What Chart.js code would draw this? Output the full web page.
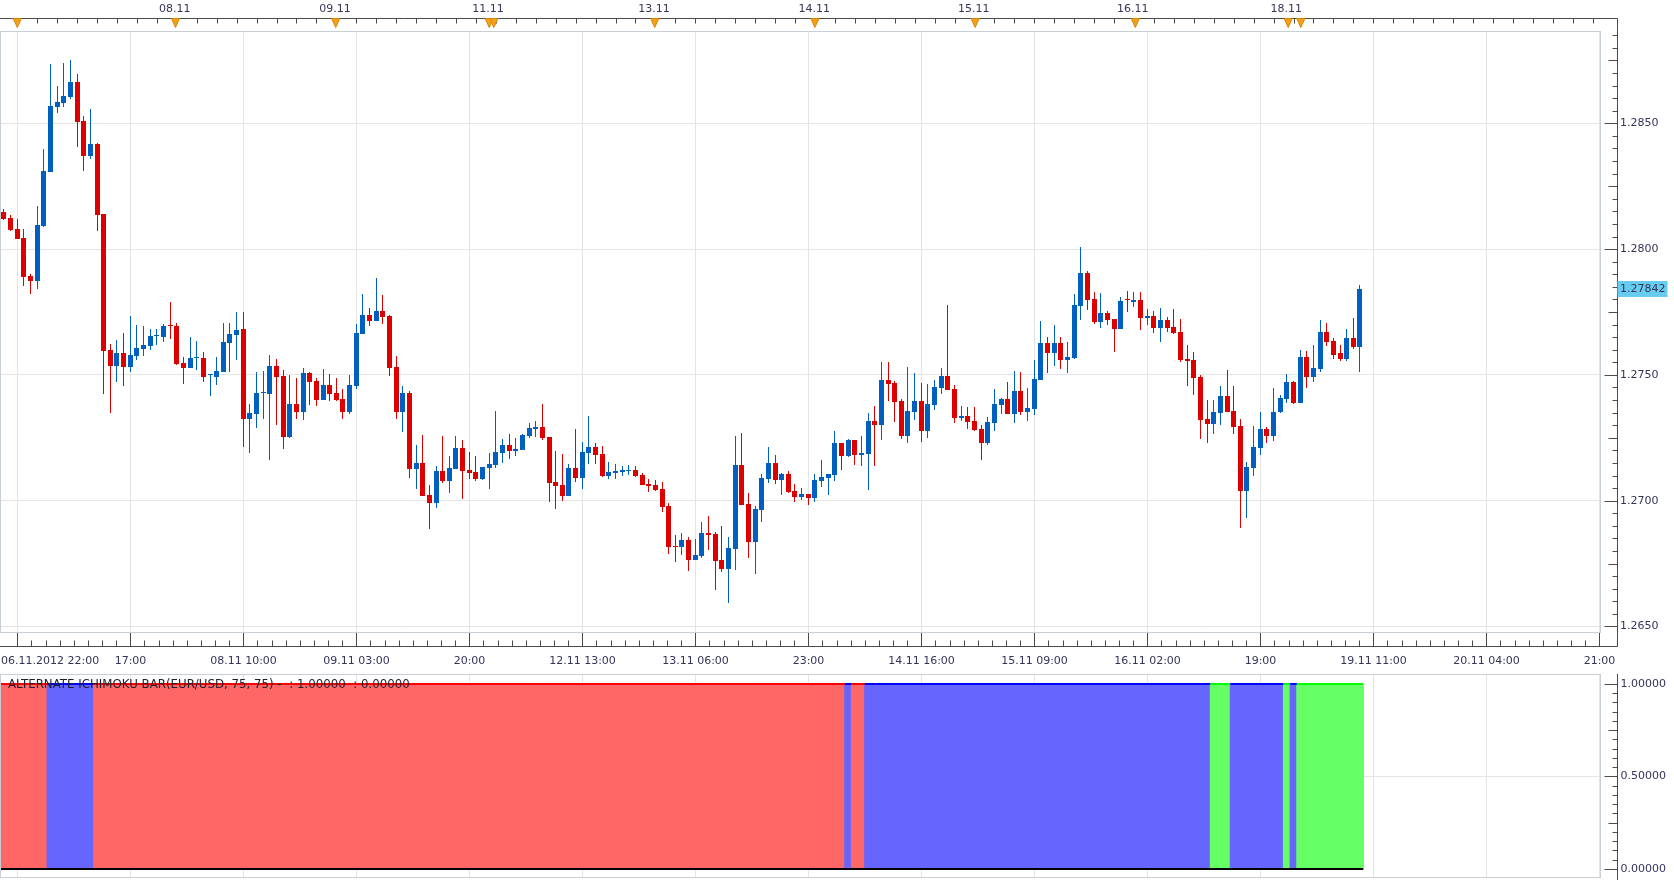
<!DOCTYPE html>
<html><head><meta charset="utf-8">
<script src="https://cdn.jsdelivr.net/npm/chart.js@4.4.0/dist/chart.umd.min.js"></script>
<style>
html,body{margin:0;padding:0;background:#fff;}
#wrap{position:relative;width:1674px;height:880px;overflow:hidden;}
#c1{position:absolute;left:0;top:0;}
#c2{position:absolute;left:0;top:672px;}
</style></head><body>
<div id="wrap"><canvas id="c1" width="1674" height="672"></canvas><canvas id="c2" width="1674" height="208"></canvas></div>
<script>
// ---- hourly EUR/USD candles ----
const opens = [
1.28148,1.28124,1.28080,1.28044,1.27893,1.27875,1.28092,1.28307,1.28565,1.28581,
1.28605,1.28664,1.28509,1.28370,1.28418,1.28140,1.27599,1.27536,1.27587,1.27532,
1.27576,1.27603,1.27615,1.27655,1.27651,1.27699,1.27695,1.27548,1.27528,1.27568,
1.27568,1.27499,1.27492,1.27512,1.27627,1.27659,1.27682,1.27324,1.27344,1.27429,
1.27423,1.27534,1.27495,1.27252,1.27383,1.27351,1.27507,1.27475,1.27399,1.27459,
1.27427,1.27403,1.27351,1.27455,1.27662,1.27737,1.27714,1.27753,1.27733,1.27531,
1.27351,1.27427,1.27125,1.27149,1.27021,1.26989,1.27117,1.27077,1.27125,1.27208,
1.27121,1.27113,1.27085,1.27129,1.27140,1.27188,1.27220,1.27196,1.27200,1.27256,
1.27284,1.27292,1.27252,1.27073,1.27061,1.27017,1.27129,1.27089,1.27188,1.27212,
1.27184,1.27097,1.27109,1.27113,1.27117,1.27121,1.27101,1.27065,1.27061,1.27045,
1.26977,1.26818,1.26814,1.26842,1.26763,1.26779,1.26870,1.26866,1.26763,1.26728,
1.26807,1.27140,1.26985,1.26835,1.26962,1.27085,1.27148,1.27081,1.27105,1.27037,
1.27013,1.27025,1.27009,1.27077,1.27089,1.27101,1.27228,1.27176,1.27243,1.27180,
1.27184,1.27315,1.27299,1.27481,1.27466,1.27398,1.27259,1.27351,1.27398,1.27275,
1.27382,1.27446,1.27497,1.27442,1.27327,1.27335,1.27315,1.27283,1.27231,1.27307,
1.27382,1.27406,1.27343,1.27434,1.27354,1.27366,1.27481,1.27628,1.27585,1.27628,
1.27561,1.27569,1.27775,1.27906,1.27803,1.27712,1.27747,1.27724,1.27684,1.27799,
1.27791,1.27799,1.27728,1.27735,1.27688,1.27720,1.27692,1.27672,1.27565,1.27561,
1.27493,1.27323,1.27303,1.27347,1.27418,1.27358,1.27295,1.27037,1.27128,1.27208,
1.27283,1.27259,1.27351,1.27406,1.27470,1.27390,1.27573,1.27493,1.27525,1.27672,
1.27636,1.27585,1.27565,1.27648,1.27612];
const highs = [
1.28158,1.28136,1.28120,1.28080,1.27901,1.28172,1.28398,1.28736,1.28648,1.28740,
1.28752,1.28696,1.28529,1.28557,1.28420,1.28140,1.27623,1.27639,1.27667,1.27734,
1.27699,1.27695,1.27683,1.27683,1.27703,1.27790,1.27707,1.27572,1.27651,1.27635,
1.27591,1.27500,1.27572,1.27707,1.27707,1.27750,1.27749,1.27383,1.27511,1.27515,
1.27578,1.27562,1.27519,1.27499,1.27487,1.27527,1.27511,1.27487,1.27523,1.27503,
1.27487,1.27443,1.27499,1.27702,1.27821,1.27765,1.27885,1.27817,1.27737,1.27574,
1.27455,1.27435,1.27220,1.27260,1.27061,1.27137,1.27256,1.27176,1.27256,1.27240,
1.27192,1.27176,1.27133,1.27188,1.27355,1.27244,1.27264,1.27248,1.27264,1.27307,
1.27315,1.27383,1.27252,1.27196,1.27184,1.27144,1.27284,1.27232,1.27335,1.27228,
1.27216,1.27152,1.27144,1.27137,1.27140,1.27137,1.27109,1.27085,1.27081,1.27073,
1.26989,1.26862,1.26870,1.26854,1.26847,1.26914,1.26938,1.26874,1.26898,1.26854,
1.27259,1.27271,1.27029,1.26977,1.27105,1.27212,1.27180,1.27112,1.27116,1.27065,
1.27049,1.27025,1.27105,1.27160,1.27108,1.27275,1.27231,1.27247,1.27243,1.27259,
1.27347,1.27378,1.27553,1.27553,1.27474,1.27406,1.27533,1.27509,1.27466,1.27462,
1.27478,1.27529,1.27779,1.27458,1.27378,1.27374,1.27374,1.27299,1.27331,1.27442,
1.27410,1.27470,1.27517,1.27513,1.27446,1.27561,1.27716,1.27652,1.27700,1.27652,
1.27632,1.27823,1.28009,1.27914,1.27831,1.27827,1.27755,1.27724,1.27811,1.27835,
1.27831,1.27831,1.27763,1.27755,1.27767,1.27731,1.27763,1.27724,1.27620,1.27589,
1.27501,1.27402,1.27402,1.27454,1.27521,1.27454,1.27323,1.27152,1.27295,1.27354,
1.27291,1.27446,1.27422,1.27505,1.27474,1.27597,1.27593,1.27620,1.27720,1.27708,
1.27648,1.27620,1.27684,1.27728,1.27858];
const lows = [
1.28116,1.28072,1.28040,1.27854,1.27822,1.27842,1.28088,1.28307,1.28541,1.28565,
1.28597,1.28406,1.28311,1.28358,1.28072,1.27425,1.27349,1.27472,1.27456,1.27512,
1.27560,1.27576,1.27599,1.27619,1.27631,1.27643,1.27540,1.27464,1.27528,1.27520,
1.27472,1.27417,1.27460,1.27512,1.27512,1.27560,1.27212,1.27188,1.27288,1.27324,
1.27160,1.27300,1.27204,1.27248,1.27324,1.27320,1.27379,1.27375,1.27399,1.27395,
1.27395,1.27324,1.27344,1.27443,1.27662,1.27694,1.27714,1.27702,1.27495,1.27324,
1.27272,1.27089,1.27045,1.27017,1.26886,1.26969,1.27069,1.27029,1.27125,1.27005,
1.27085,1.27077,1.27081,1.27045,1.27129,1.27148,1.27164,1.27176,1.27200,1.27248,
1.27252,1.27240,1.26993,1.26966,1.26997,1.27017,1.27073,1.27045,1.27144,1.27144,
1.27093,1.27085,1.27085,1.27097,1.27101,1.27093,1.27061,1.27033,1.27037,1.26954,
1.26787,1.26755,1.26783,1.26719,1.26763,1.26771,1.26803,1.26644,1.26716,1.26593,
1.26724,1.26981,1.26771,1.26708,1.26914,1.27069,1.27065,1.27021,1.27029,1.26993,
1.27001,1.26981,1.26995,1.27053,1.27021,1.27077,1.27120,1.27172,1.27140,1.27136,
1.27041,1.27136,1.27243,1.27398,1.27311,1.27247,1.27228,1.27319,1.27235,1.27251,
1.27362,1.27426,1.27438,1.27307,1.27315,1.27283,1.27275,1.27160,1.27220,1.27275,
1.27343,1.27343,1.27307,1.27339,1.27315,1.27339,1.27481,1.27509,1.27537,1.27525,
1.27509,1.27565,1.27720,1.27759,1.27704,1.27688,1.27700,1.27589,1.27684,1.27751,
1.27771,1.27680,1.27700,1.27668,1.27632,1.27672,1.27661,1.27553,1.27454,1.27422,
1.27247,1.27228,1.27267,1.27299,1.27354,1.27267,1.26890,1.26930,1.27097,1.27180,
1.27229,1.27237,1.27347,1.27390,1.27386,1.27390,1.27446,1.27470,1.27513,1.27616,
1.27565,1.27557,1.27557,1.27604,1.27513];
const closes = [
1.28121,1.28076,1.28040,1.27889,1.27875,1.28096,1.28311,1.28569,1.28585,1.28609,
1.28664,1.28505,1.28370,1.28418,1.28136,1.27595,1.27536,1.27587,1.27532,1.27579,
1.27607,1.27619,1.27655,1.27659,1.27695,1.27696,1.27544,1.27528,1.27568,1.27572,
1.27492,1.27500,1.27516,1.27631,1.27663,1.27679,1.27324,1.27347,1.27427,1.27430,
1.27534,1.27491,1.27252,1.27383,1.27351,1.27507,1.27471,1.27399,1.27459,1.27423,
1.27399,1.27351,1.27459,1.27666,1.27737,1.27714,1.27753,1.27729,1.27527,1.27351,
1.27427,1.27125,1.27149,1.27017,1.26989,1.27117,1.27077,1.27129,1.27208,1.27118,
1.27109,1.27085,1.27133,1.27144,1.27192,1.27220,1.27196,1.27204,1.27260,1.27288,
1.27292,1.27248,1.27069,1.27057,1.27017,1.27129,1.27089,1.27192,1.27212,1.27180,
1.27097,1.27113,1.27117,1.27121,1.27121,1.27097,1.27061,1.27057,1.27041,1.26973,
1.26814,1.26816,1.26842,1.26763,1.26783,1.26870,1.26862,1.26759,1.26728,1.26811,
1.27140,1.26981,1.26835,1.26966,1.27089,1.27148,1.27081,1.27105,1.27033,1.27013,
1.27025,1.27009,1.27081,1.27093,1.27105,1.27228,1.27176,1.27243,1.27180,1.27188,
1.27315,1.27299,1.27481,1.27462,1.27394,1.27259,1.27355,1.27398,1.27275,1.27386,
1.27450,1.27497,1.27438,1.27327,1.27335,1.27312,1.27279,1.27231,1.27311,1.27386,
1.27406,1.27343,1.27434,1.27354,1.27370,1.27485,1.27628,1.27585,1.27628,1.27561,
1.27572,1.27779,1.27906,1.27799,1.27712,1.27747,1.27720,1.27684,1.27795,1.27796,
1.27799,1.27728,1.27735,1.27688,1.27720,1.27688,1.27668,1.27561,1.27557,1.27489,
1.27319,1.27303,1.27351,1.27418,1.27354,1.27291,1.27037,1.27132,1.27212,1.27283,
1.27259,1.27354,1.27410,1.27470,1.27390,1.27573,1.27493,1.27529,1.27672,1.27632,
1.27581,1.27565,1.27648,1.27612,1.27842];

// Alternate Ichimoku bar state per candle: R = red, B = blue, G = green
const signalStates = [
"RRRRRRRBBB","BBBBRRRRRR","RRRRRRRRRR","RRRRRRRRRR","RRRRRRRRRR",
"RRRRRRRRRR","RRRRRRRRRR","RRRRRRRRRR","RRRRRRRRRR","RRRRRRRRRR",
"RRRRRRRRRR","RRRRRRRRRR","RRRRRRRBRR","BBBBBBBBBB","BBBBBBBBBB",
"BBBBBBBBBB","BBBBBBBBBB","BBBBBBBBBB","BBGGGBBBBB","BBBGBGGGGG",
"GGGGG"].join("").split("");
const signalValue = 1;   // bar height of the indicator (0..1)

// axis tick labels
const xTickIdx   = [2,19,36,53,70,87,104,121,138,155,172,189,206,223,240];
const xTickLabels = ["06.11.2012 22:00","17:00","08.11 10:00","09.11 03:00","20:00","12.11 13:00",
  "13.11 06:00","23:00","14.11 16:00","15.11 09:00","16.11 02:00","19:00","19.11 11:00","20.11 04:00","21:00"];
const topLabels   = ["08.11","09.11","11.11","13.11","14.11","15.11","16.11","18.11"];
const topLabelIdx = [25.7,49.8,72.8,97.8,121.9,145.9,169.8,192.9];
const eventIdx    = [2.0,25.8,49.9,73.0,73.7,97.9,122.0,146.1,170.2,193.2,195.1];
const priceTicks  = [1.2650,1.2700,1.2750,1.2800,1.2850];
const signalTicks = [0,0.5,1];
const indicatorTitle = "ALTERNATE ICHIMOKU BAR(EUR/USD, 75, 75) -  : 1.00000  : 0.00000";

// ---- styling ----
const FONT_FAMILY = '"DejaVu Sans", Verdana, sans-serif';
const FONT = '11px ' + FONT_FAMILY;
const TXT = '#34345a';
const GRID = '#e4e4e4';
const FRAME = '#c6ced6';
const AXIS = '#4a4a4a';
const UP = '#0060c0', DOWN = '#dd0000';
const X_MIN = -0.6, X_MAX = 240.26;
const Y_MIN = 1.264741, Y_MAX = 1.288668;
const YB_MIN = -0.04865, YB_MAX = 1.05405;

const N = opens.length;
const idx = opens.map((_, i) => i);
const candleColor = idx.map(i => closes[i] >= opens[i] ? UP : DOWN);
const fillMap = {R:'#ff6666', B:'#6666ff', G:'#66ff66'};
const lineMap = {R:'#ff0000', B:'#0000ff', G:'#00ff00'};

function seg(ctx, x1, y1, x2, y2, color, w) {
  ctx.save(); ctx.strokeStyle = color; ctx.lineWidth = w || 1;
  ctx.beginPath(); ctx.moveTo(x1, y1); ctx.lineTo(x2, y2); ctx.stroke(); ctx.restore();
}
const px = v => Math.round(v) + 0.5;

// snap the library-computed candle elements to whole device pixels for crisp edges
const crispCandles = {
  id: 'crispCandles',
  beforeDatasetsDraw(chart) {
    chart.data.datasets.forEach((ds, di) => {
      chart.getDatasetMeta(di).data.forEach(el => {
        el.x = Math.floor(el.x) + 0.5;
        const y0 = Math.round(el.y), b0 = Math.round(el.base);
        if (y0 !== b0) { el.y = y0; el.base = b0; }
      });
    });
  }
};

const priceAxes = {
  id: 'priceAxes',
  afterDraw(chart) {
    const {ctx, chartArea: a, scales: {x, y}} = chart;
    const axisX = px(a.right + 16);
    const axisY = px(a.bottom + 13);
    const topY = 18.5;
    ctx.save();
    ctx.strokeStyle = FRAME; ctx.lineWidth = 1;
    ctx.strokeRect(a.left + 0.5, a.top + 0.5, a.right - a.left - 1, a.bottom - a.top - 1);
    // right axis
    seg(ctx, axisX, topY, axisX, axisY, AXIS);
    priceTicks.forEach(v => { const yy = px(y.getPixelForValue(v)); seg(ctx, axisX - 13, yy, axisX, yy, AXIS); });
    for (let k = Math.ceil(Y_MIN / 0.0005); k * 0.0005 <= Y_MAX; k++) {
      if (k % 10 === 0) continue;
      const yy = px(y.getPixelForValue(k * 0.0005));
      seg(ctx, axisX - (k % 5 === 0 ? 9 : 5), yy, axisX, yy, AXIS);
    }
    // bottom axis
    seg(ctx, 0, axisY, axisX, axisY, AXIS);
    ctx.font = FONT; ctx.fillStyle = TXT; ctx.textBaseline = 'middle';
    xTickIdx.forEach((v, k) => {
      const xx = px(x.getPixelForValue(v));
      seg(ctx, xx, a.bottom, xx, axisY, AXIS);
      for (let j = 1; j < 8; j++) {
        const mv = v + 17 * j / 8;
        if (mv > X_MAX) break;
        const mx = px(x.getPixelForValue(mv));
        seg(ctx, mx, axisY - 6, mx, axisY, AXIS);
      }
      const t = xTickLabels[k];
      const w = ctx.measureText(t).width;
      let lx = xx - w / 2;
      if (lx < 1) lx = 1;
      ctx.fillText(t, lx, a.bottom + 28);
    });
    // top axis
    seg(ctx, 0, topY, axisX, topY, AXIS);
    for (let i = 2; i <= X_MAX; i += 3) {
      const xx = px(x.getPixelForValue(i));
      seg(ctx, xx, topY, xx, topY + 5, AXIS);
    }
    ctx.textAlign = 'center';
    topLabels.forEach((t, k) => ctx.fillText(t, x.getPixelForValue(topLabelIdx[k]), 9));
    ctx.fillStyle = '#f5a01a'; ctx.strokeStyle = '#d98300';
    eventIdx.forEach(v => {
      const xx = x.getPixelForValue(v);
      ctx.beginPath(); ctx.moveTo(xx - 4, topY); ctx.lineTo(xx + 4, topY); ctx.lineTo(xx, topY + 9); ctx.closePath();
      ctx.fill(); ctx.stroke();
    });
    // last price label
    const last = closes[N - 1];
    const ly = y.getPixelForValue(last);
    ctx.fillStyle = '#66ccf0';
    ctx.fillRect(axisX, Math.round(ly) - 8, 50, 16);
    ctx.fillStyle = TXT; ctx.textAlign = 'left';
    ctx.fillText(last.toFixed(5), axisX + 2.5, ly);
    ctx.restore();
  }
};

new Chart(document.getElementById('c1'), {
  type: 'bar',
  data: {
    datasets: [
      { label: 'body', data: idx.map(i => ({x: i, y: [opens[i], closes[i]]})),
        backgroundColor: candleColor, barThickness: 5, minBarLength: 1, grouped: false,
        inflateAmount: 0, order: 1 },
      { label: 'wick', data: idx.map(i => ({x: i, y: [lows[i], highs[i]]})),
        backgroundColor: candleColor, barThickness: 1, grouped: false, inflateAmount: 0, order: 2 }
    ]
  },
  options: {
    responsive: false, animation: false, events: [],
    layout: {padding: {top: 31, left: 0, right: 0, bottom: 0}, autoPadding: false},
    plugins: {legend: {display: false}, tooltip: {enabled: false}},
    scales: {
      x: { type: 'linear', min: X_MIN, max: X_MAX, offset: false,
        afterBuildTicks: s => { s.ticks = xTickIdx.map(v => ({value: v})); },
        afterFit: s => { s.height = 39; },
        grid: {color: GRID, drawTicks: false, offset: false}, ticks: {display: false}, border: {display: false} },
      y: { position: 'right', min: Y_MIN, max: Y_MAX,
        afterBuildTicks: s => { s.ticks = priceTicks.map(v => ({value: v})); },
        afterFit: s => { s.width = 73; },
        grid: {color: GRID, drawTicks: true, tickLength: 16, tickColor: 'rgba(0,0,0,0)'},
        ticks: {padding: 3, color: TXT, font: {family: FONT_FAMILY, size: 11}, callback: v => Number(v).toFixed(4)},
        border: {display: false} }
    }
  },
  plugins: [crispCandles, priceAxes]
});

const signalAxes = {
  id: 'signalAxes',
  afterDraw(chart) {
    const {ctx, chartArea: a, scales: {y}} = chart;
    const axisX = px(a.right + 16);
    ctx.save();
    ctx.strokeStyle = FRAME; ctx.lineWidth = 1;
    ctx.strokeRect(a.left + 0.5, a.top + 0.5, a.right - a.left - 1, a.bottom - a.top - 1);
    seg(ctx, axisX, a.top, axisX, chart.height, AXIS);
    for (let k = 0; k <= 20; k++) {
      const yy = px(y.getPixelForValue(k * 0.05));
      const len = (k % 10 === 0) ? 13 : (k % 5 === 0 ? 9 : 5);
      seg(ctx, axisX - len, yy, axisX, yy, AXIS);
    }
    ctx.font = FONT; ctx.fillStyle = TXT; ctx.textBaseline = 'middle'; ctx.textAlign = 'left';
    signalTicks.forEach(v => ctx.fillText(v.toFixed(5), axisX + 3, y.getPixelForValue(v)));
    ctx.restore();
  },
  afterDatasetsDraw(chart) {
    const {ctx, scales: {y}} = chart;
    ctx.save();
    ctx.font = '11.8px ' + FONT_FAMILY; ctx.fillStyle = '#1e1e2e'; ctx.textBaseline = 'middle';
    ctx.fillText(indicatorTitle, 8, y.getPixelForValue(1) + 0.5);
    ctx.restore();
  }
};

// top edge line: one point per bar boundary, each segment coloured by its bar's state
const edgePoints = idx.concat([N]).map(i => ({x: i - 0.5, y: signalValue}));

new Chart(document.getElementById('c2'), {
  type: 'bar',
  data: {
    datasets: [
      { type: 'line', data: [{x: -0.5, y: 0}, {x: N - 0.5, y: 0}], borderColor: '#000000',
        borderWidth: 2, pointRadius: 0, order: 0 },
      { type: 'line', data: edgePoints, borderWidth: 2, pointRadius: 0, order: 0,
        borderColor: lineMap.R,
        segment: { borderColor: c => lineMap[signalStates[c.p0DataIndex]] } },
      { data: idx.map(i => ({x: i, y: signalValue})),
        backgroundColor: signalStates.map(s => fillMap[s]),
        borderWidth: 0,
        barPercentage: 1, categoryPercentage: 1, grouped: false, inflateAmount: 0.6, order: 1 }
    ]
  },
  options: {
    responsive: false, animation: false, events: [],
    layout: {padding: {top: 2, left: 0, right: 0, bottom: 2}, autoPadding: false},
    plugins: {legend: {display: false}, tooltip: {enabled: false}},
    scales: {
      x: { type: 'linear', min: X_MIN, max: X_MAX, offset: false, z: 1,
        afterBuildTicks: s => { s.ticks = xTickIdx.map(v => ({value: v})); },
        afterFit: s => { s.height = 0; },
        grid: {color: 'rgba(0,0,0,0.10)', drawTicks: false, offset: false}, ticks: {display: false}, border: {display: false} },
      y: { position: 'right', min: YB_MIN, max: YB_MAX,
        afterBuildTicks: s => { s.ticks = signalTicks.map(v => ({value: v})); },
        afterFit: s => { s.width = 73; },
        grid: {color: c => (c.tick && c.tick.value === 0.5) ? GRID : 'rgba(0,0,0,0)', drawTicks: false},
        ticks: {display: false},
        border: {display: false} }
    }
  },
  plugins: [signalAxes]
});
</script>
</body></html>
